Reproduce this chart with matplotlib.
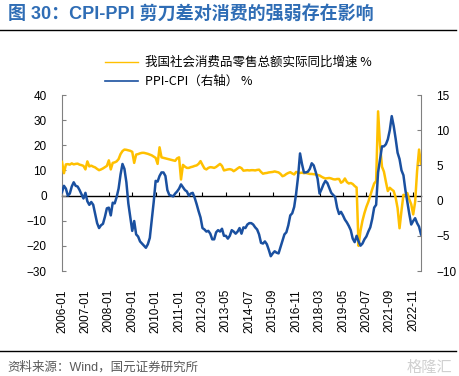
"""CPI-PPI 剪刀差 vs 社零实际同比 chart (recreated)."""

import matplotlib

matplotlib.use("Agg")
import matplotlib.pyplot as plt
from matplotlib.lines import Line2D

plt.rcParams["font.family"] = ["Liberation Sans", "Noto Sans CJK SC", "DejaVu Sans"]

# category axis: monthly, Jan/Feb dropped from 2012 on (as in Wind export)
months = []
for year in range(2006, 2024):
    first = 1 if year < 2012 else 3
    last = 5 if year == 2023 else 12
    for m in range(first, last + 1):
        months.append(f"{year}-{m:02d}")

# 我国社会消费品零售总额实际同比增速 %  (left axis)
retail_real = [
    13.4, 8.9, 12.4, 12.5, 12.3, 12.8, 12.4, 12.6, 12.7, 12.3, 12.1, 11.8,   # 2006
    10.4, 13.6, 11.6, 11.9, 11.5, 11.2, 10.6, 10.1, 10.4, 10.8, 11.3, 11.8,  # 2007
    14.0, 10.4, 13.0, 13.2, 13.6, 14.5, 16.5, 17.7, 18.3, 18.2, 18.0, 17.8,  # 2008
    17.4, 13.0, 16.3, 16.5, 16.8, 17.0, 17.0, 16.8, 16.6, 16.3, 16.0, 15.5,  # 2009
    15.0, 12.6, 19.2, 15.2, 15.0, 14.8, 14.6, 14.4, 14.2, 14.0, 13.8, 14.8,  # 2010
    15.2, 6.4, 12.2, 11.5, 11.0, 11.0, 11.3, 11.5, 11.8, 12.0, 12.6, 13.7,   # 2011
    12.2, 10.8, 10.4, 11.0, 11.3, 11.2, 11.0, 11.4, 12.0, 12.6,              # 2012
    11.8, 10.0, 10.2, 10.4, 10.5, 10.3, 9.7, 10.2, 10.8, 11.3,               # 2013
    10.9, 9.9, 10.0, 10.1, 10.0, 10.1, 10.1, 10.0, 10.2, 10.3,               # 2014
    9.4, 8.7, 8.9, 9.0, 9.2, 9.3, 9.4, 9.6, 9.4, 9.2,                        # 2015
    8.6, 7.7, 8.0, 8.6, 9.0, 9.3, 8.8, 8.4, 9.4, 9.1,                        # 2016
    9.0, 9.1, 8.9, 9.0, 8.8, 8.6, 8.6, 8.5, 8.4, 8.2,                        # 2017
    8.0, 7.5, 7.1, 6.8, 6.9, 7.0, 6.8, 6.5, 6.4, 6.6,                        # 2018
    6.6, 5.1, 5.6, 6.8, 5.4, 4.8, 5.0, 4.6, 3.8, 3.2,                        # 2019
    -20.0, -14.0, -10.0, -7.0, -4.5, -2.5, 0.0, 2.5, 4.8, 5.8,               # 2020
    33.5, 20.3, 11.5, 9.5, 5.5, 1.8, 3.1, 2.4, 1.8, -0.8,                    # 2021
    -5.0, -13.0, -6.0, 0.3, 0.0, 1.0, -1.5, -3.5, -7.5, -2.5,                # 2022
    9.8, 18.3, 12.4,                                                         # 2023
]

# PPI-CPI（右轴）%  (right axis)
ppi_cpi = [
    1.2, 2.1, 1.7, 0.7, 1.0, 2.0, 2.6, 2.1, 2.0, 1.5, 0.9, 0.3,              # 2006
    1.1, -0.1, -0.6, -0.2, -0.6, -1.9, -3.2, -3.9, -3.5, -3.3, -2.3, -1.1,   # 2007
    -1.0, -2.1, -0.3, -0.4, 0.5, 1.7, 3.7, 5.2, 4.5, 2.6, -0.4, -2.3,        # 2008
    -4.3, -2.9, -4.8, -5.1, -5.8, -6.1, -6.4, -6.7, -6.2, -5.3, -2.7, -0.2,  # 2009
    2.8, 2.7, 3.5, 4.0, 4.0, 3.5, 1.5, 0.8, 0.7, 0.6, 1.0, 1.3,              # 2010
    1.7, 2.3, 1.9, 1.5, 1.3, 0.7, 1.0, 1.1, 0.4, -0.5, -1.5, -2.4,           # 2011
    -3.9, -4.1, -4.4, -4.3, -4.7, -5.5, -5.5, -4.5, -4.2, -4.4,              # 2012
    -4.0, -5.0, -5.0, -5.4, -5.0, -4.2, -4.4, -4.7, -4.4, -3.9,              # 2013
    -4.7, -3.8, -3.9, -3.4, -3.2, -3.2, -3.4, -3.8, -4.1, -4.8,              # 2014
    -6.0, -6.1, -5.8, -6.2, -7.0, -7.9, -7.5, -7.2, -7.4, -7.5,              # 2015
    -6.6, -5.7, -4.8, -4.5, -3.5, -2.1, -1.8, -0.9, 1.0, 3.4,                # 2016
    6.7, 5.2, 4.0, 4.0, 4.1, 4.5, 5.3, 5.0, 4.1, 3.1,                        # 2017
    1.0, 1.6, 2.3, 2.8, 2.5, 1.8, 1.1, 0.8, 0.5, -1.0,                       # 2018
    -1.9, -1.6, -2.1, -2.7, -3.1, -3.6, -4.2, -5.4, -5.9, -5.0,              # 2019
    -5.8, -6.4, -6.1, -5.5, -5.1, -4.4, -3.8, -2.6, -1.0, -0.6,              # 2020
    4.0, 5.9, 7.7, 7.7, 8.0, 8.7, 10.0, 12.0, 10.6, 8.8,                     # 2021
    6.8, 5.9, 4.3, 3.6, 1.5, -0.2, -1.9, -3.4, -2.9, -2.5,                   # 2022
    -3.2, -3.7, -4.8,                                                        # 2023
]

label_retail = "我国社会消费品零售总额实际同比增速 %"
label_gap = "PPI-CPI（右轴） %"
title = "图 30：CPI-PPI 剪刀差对消费的强弱存在影响"
source = "资料来源：Wind，国元证券研究所"

YELLOW = "#FFC000"
BLUE = "#1A50A0"
GREY = "#808080"
W, H = 459, 376

fig = plt.figure(figsize=(W / 100, H / 100), dpi=100)
ax = fig.add_axes([62 / W, 1 - 271 / H, (421 - 62) / W, (271 - 95) / H])
ax2 = ax.twinx()

x = list(range(len(months)))
ax.plot(x, retail_real, color=YELLOW, lw=1.8, zorder=3)
ax2.plot(x, ppi_cpi, color=BLUE, lw=1.8, zorder=3)

ax.set_xlim(0, len(months) - 1)
ax.set_ylim(-30, 40)
ax.set_yticks(range(-30, 41, 10))
ax2.set_ylim(-10, 15)
ax2.set_yticks(range(-10, 16, 5))

tick_idx = list(range(0, len(months), 12))
ax.set_xticks(tick_idx)
ax.set_xticklabels([months[i] for i in tick_idx], rotation=90, fontsize=8.5)
ax.tick_params(axis="x", length=0, pad=13)
ax.tick_params(axis="y", direction="in", length=3, color=GREY, labelsize=8.5, pad=11)
ax2.tick_params(axis="y", direction="in", length=3, color=GREY, labelsize=8.5, pad=11)

for a in (ax, ax2):
    a.spines["top"].set_visible(False)
    a.spines["bottom"].set_visible(False)
    a.spines["left"].set_color(GREY)
    a.spines["right"].set_color(GREY)
    a.spines["left"].set_linewidth(0.8)
    a.spines["right"].set_linewidth(0.8)
ax.spines["right"].set_visible(False)
ax2.spines["left"].set_visible(False)

# category axis crossing at 0 of the left axis, ticks pointing up
zero_axis = ax.secondary_xaxis(30 / 70)
zero_axis.set_xticks(tick_idx)
zero_axis.tick_params(axis="x", direction="in", length=3, width=0.8,
                      color="black", labelbottom=False)
zero_axis.spines["bottom"].set_color("black")
zero_axis.spines["bottom"].set_linewidth(1.0)

handles = [Line2D([], [], color=YELLOW, lw=1.0), Line2D([], [], color=BLUE, lw=1.2)]
fig.legend(handles, [label_retail, label_gap], loc="upper left",
           bbox_to_anchor=(105 / W, 1 - 56 / H), frameon=False,
           prop={"family": ["Noto Sans CJK SC", "DejaVu Sans"], "size": 9},
           handlelength=2.6, handletextpad=0.6, labelspacing=0.5,
           borderpad=0, borderaxespad=0)

fig.text(8 / W, 1 - 15 / H, title, fontsize=13, fontweight="bold",
         color="#2F6DB5", va="center", ha="left")
fig.add_artist(Line2D([0, 456 / W], [1 - 29.5 / H] * 2, color="black", lw=1.0))
fig.add_artist(Line2D([0, 456 / W], [1 - 351 / H] * 2, color="black", lw=1.0))
fig.text(7 / W, 1 - 367 / H, source, fontsize=9, color="#595959",
         va="center", ha="left")
fig.text(452 / W, 1 - 367 / H, "格隆汇", fontsize=11, color="#D0D0D0",
         va="center", ha="right", family=["Noto Sans CJK SC"])

fig.savefig("out.png", dpi=100)
